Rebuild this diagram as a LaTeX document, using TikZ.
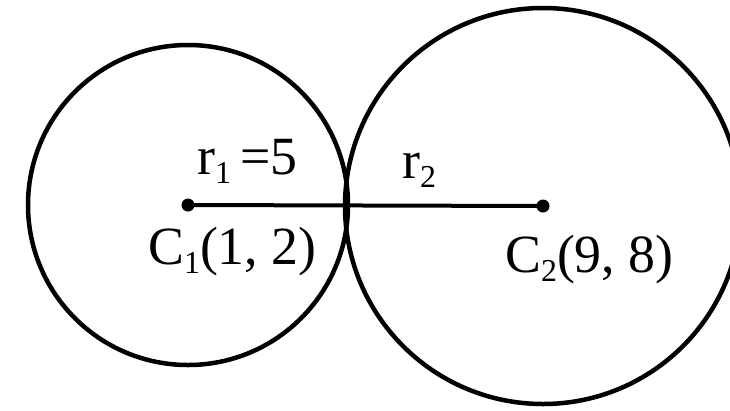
\documentclass[tikz,border=0pt]{standalone}
\usepackage{fontspec}
\setmainfont{Liberation Serif}
\newcommand\lowsub[1]{\raisebox{-0.4ex}{\fontsize{32}{32}\selectfont #1}}
\begin{document}
\begin{tikzpicture}[x=1bp,y=-1bp,
  ring/.style={draw=black,line width=4.5bp},
  seg/.style={line width=4bp},
  ctr/.style={circle,fill=black,inner sep=0pt,minimum size=13bp},
  lbl/.style={font=\fontsize{54}{54}\selectfont,inner sep=0pt,anchor=base west}]
\useasboundingbox (0,0) rectangle (730,410);
\clip (0,0) rectangle (730,410);
\fill[white] (0,0) rectangle (730,410);
\draw[ring] (188,205) circle[radius=160bp];
\draw[ring] (543,206) circle[radius=198bp];
\node[ctr] (c1) at (188,205) {};
\node[ctr] (c2) at (543,206) {};
\draw[seg] (c1.center) -- (c2.center);
\node[lbl] (r1) at (197,174) {r\lowsub{1}\,=5};
\node[lbl] (r2) at (402,178) {r\lowsub{2}};
\node[lbl] (C1) at (148,264) {C\lowsub{1}(1, 2)};
\node[lbl] (C2) at (505,272) {C\lowsub{2}(9, 8)};
\end{tikzpicture}
\end{document}
